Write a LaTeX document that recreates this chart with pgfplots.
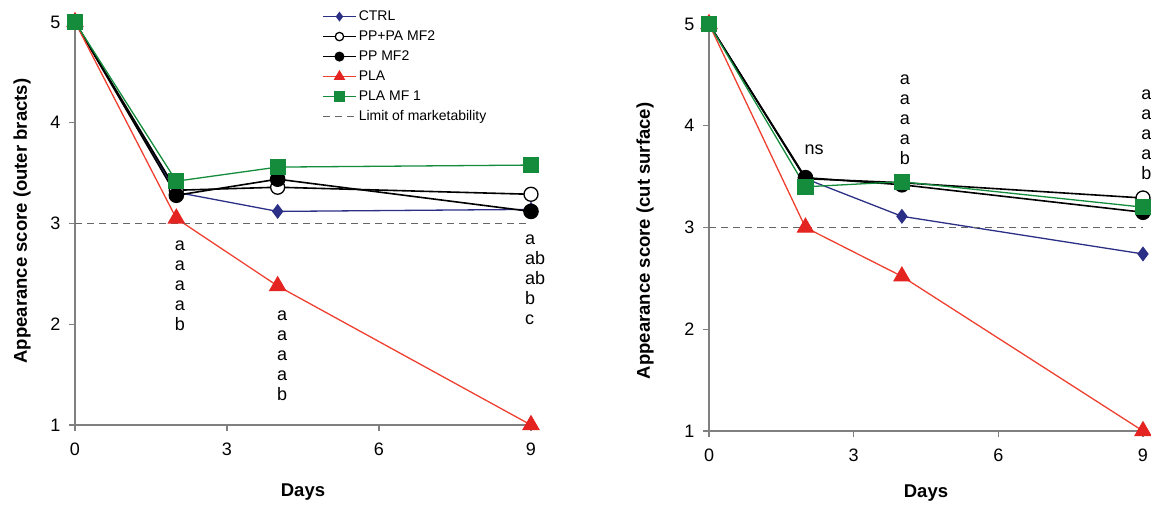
\documentclass[border=0pt]{standalone}
\usepackage{fontspec}
\setmainfont{Liberation Sans}
\usepackage{pgfplots}
\pgfplotsset{compat=1.18}
\definecolor{ctrl}{RGB}{43,47,133}
\definecolor{plared}{RGB}{238,64,48}
\definecolor{plamark}{RGB}{228,36,33}
\definecolor{plagreen}{RGB}{20,140,60}
\definecolor{axgray}{RGB}{128,128,128}
\tikzset{annot/.style={font=\fontsize{18}{20}\selectfont, align=center, inner sep=0pt}}
\pgfplotsset{
  myax/.style={
    scale only axis,
    axis lines=left,
    axis line style={axgray, line width=1.6pt, -},
    tick style={axgray, line width=1.2pt},
    tick align=outside,
    major tick length=6pt,
    xmin=0, xmax=9, ymin=1, ymax=5,
    xtick={0,3,6,9}, ytick={1,2,3,4,5},
    clip=false,
    /pgf/number format/assume math mode=true,
    tick label style={font=\fontsize{18}{20}\selectfont},
    xticklabel style={yshift=-8pt},
    yticklabel style={xshift=-5pt},
    label style={font=\fontsize{18.5}{20}\selectfont\bfseries},
    xlabel={Days},
  },
  sctrl/.style={ctrl, line width=1.3pt, mark=diamond*, mark size=6.5pt, mark options={fill=ctrl, draw=ctrl}},
  sppa/.style={black, line width=1.6pt, mark=*, mark size=7pt, mark options={fill=white, draw=black, line width=1.3pt}},
  sppm/.style={black, line width=1.6pt, mark=*, mark size=7pt, mark options={fill=black, draw=black}},
  spla/.style={plared, line width=1.3pt, mark=triangle*, mark size=9pt, mark options={fill=plamark, draw=plamark}},
  sgrn/.style={plagreen, line width=1.3pt, mark=square*, mark size=7.5pt, mark options={fill=plagreen, draw=plagreen}},
  slim/.style={black!60, line width=1.6pt, dash pattern=on 7pt off 5pt},
}
\begin{document}
\begin{tikzpicture}
\useasboundingbox (0,0) rectangle (1151pt,507pt);
\begin{axis}[myax,
  at={(75pt,82pt)}, anchor=south west,
  width=456pt, height=403pt,
  ylabel={Appearance score (outer bracts)},
  x label style={at={(axis description cs:0.5,-0.166)}, anchor=center},
  y label style={at={(axis description cs:-0.116,0.506)}, anchor=center},
  legend style={at={(axis description cs:0.535,1.04)}, anchor=north west,
    draw=none, fill=none, font=\fontsize{14}{16}\selectfont,
    row sep=3pt,
    nodes={text height=10pt, text depth=3pt, inner sep=2pt}},
  legend cell align=left,
  legend image code/.code={\draw[mark repeat=2, mark phase=2, every mark/.append style={scale=0.6}] plot coordinates {(0pt,0pt) (16.5pt,0pt) (33pt,0pt)};},
]
\addplot[sctrl] coordinates {(0,5) (2,3.31) (4,3.12) (9,3.14)};
\addlegendentry{CTRL}
\addplot[sppa] coordinates {(0,5) (2,3.33) (4,3.36) (9,3.29)};
\addlegendentry{PP+PA MF2}
\addplot[sppm] coordinates {(0,5) (2,3.28) (4,3.44) (9,3.12)};
\addlegendentry{PP MF2}
\addplot[spla] coordinates {(0,5) (2,3.05) (4,2.38) (9,1.0)};
\addlegendentry{PLA}
\addplot[sgrn] coordinates {(0,5) (2,3.42) (4,3.56) (9,3.58)};
\addlegendentry{PLA MF 1}
\addplot[slim] coordinates {(0,3) (9,3)};
\addlegendentry{Limit of marketability}
\node[annot] at (axis cs:2.07,2.38) {a\\a\\a\\a\\b};
\node[annot] at (axis cs:4.09,1.69) {a\\a\\a\\a\\b};
\node[annot, align=left, anchor=west] at (axis cs:8.88,2.44) {a\\ab\\ab\\b\\c};
\end{axis}
\begin{axis}[myax,
  at={(709pt,76pt)}, anchor=south west,
  width=434pt, height=407pt,
  ylabel={Appearance score (cut surface)},
  x label style={at={(axis description cs:0.5,-0.152)}, anchor=center},
  y label style={at={(axis description cs:-0.147,0.467)}, anchor=center},
]
\addplot[sctrl] coordinates {(0,5) (2,3.48) (4,3.11) (9,2.74)};
\addplot[sppa] coordinates {(0,5) (2,3.48) (4,3.44) (9,3.29)};
\addplot[sppm] coordinates {(0,5) (2,3.49) (4,3.42) (9,3.15)};
\addplot[spla] coordinates {(0,5) (2,3.0) (4,2.52) (9,1.0)};
\addplot[sgrn] coordinates {(0,5) (2,3.40) (4,3.45) (9,3.20)};
\addplot[slim] coordinates {(0,3) (9,3)};
\node[annot] at (axis cs:2.18,3.76) {ns};
\node[annot] at (axis cs:4.06,4.06) {a\\a\\a\\a\\b};
\node[annot, anchor=west] at (axis cs:8.96,3.91) {a\\a\\a\\a\\b};
\end{axis}
\end{tikzpicture}
\end{document}
